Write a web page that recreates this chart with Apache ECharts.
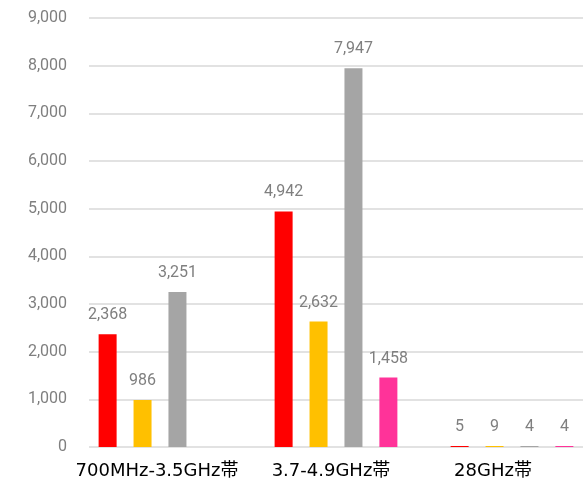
<!DOCTYPE html>
<html>
<head>
<meta charset="utf-8">
<script src="https://cdn.jsdelivr.net/npm/echarts@6/dist/echarts.min.js"></script>
<style>
  html, body { margin: 0; padding: 0; background: #fff; overflow: hidden; }
  /* a little wider than the window: the last category band runs past the right edge */
  #chart { width: 600px; height: 481px; }
</style>
</head>
<body>
<div id="chart"></div>
<script>
// band categories
const categories = ['700MHz-3.5GHz帯', '3.7-4.9GHz帯', '28GHz帯'];
// four series, colors follow the original
const seriesA = [2368, 4942, 5];
const seriesB = [986, 2632, 9];
const seriesC = [3251, 7947, 4];
const seriesD = [null, 1458, 4];
const seriesColors = ['#ff0000', '#ffc000', '#a5a5a5', '#ff3399'];
const yTicks = [0, 9000, 1000];

const chart = echarts.init(document.getElementById('chart'));

const labelStyle = {
  show: true,
  position: 'top',
  distance: 11,
  color: '#7f7f7f',
  fontSize: 16,
  fontFamily: 'Roboto, "Noto Sans CJK JP", sans-serif',
  formatter: (p) => p.value.toLocaleString('en-US')
};

const makeSeries = (data, i) => ({
  type: 'bar',
  xAxisIndex: 1,
  yAxisIndex: 1,
  data: data,
  barWidth: 18,
  barGap: '94%',
  barMinHeight: 1,
  itemStyle: { color: seriesColors[i] },
  label: labelStyle
});

// category labels in the original sit a bit left of the band centre
const labelShift = [6, 10, 38];
const xRich = {};
labelShift.forEach((s, i) => {
  xRich['c' + i] = { padding: [0, s, 0, 0] };
});

chart.setOption({
  animation: false,
  grid: [
    // gridlines + y labels, ends at the window edge
    { left: 89, right: 17, top: 18, bottom: 34 },
    // bars
    { left: 72, right: 0, top: 18, bottom: 34 }
  ],
  xAxis: [
    { gridIndex: 0, type: 'value', show: false },
    {
      gridIndex: 1,
      type: 'category',
      data: categories,
      axisLine: { show: false },
      axisTick: { show: false },
      axisLabel: {
        interval: 0,
        color: '#000',
        fontSize: 18,
        margin: 15,
        fontFamily: '"DejaVu Sans", "Noto Sans CJK JP", sans-serif',
        formatter: (v, i) => '{c' + i + '|' + v + '}',
        rich: xRich
      }
    }
  ],
  yAxis: [
    {
      gridIndex: 0,
      type: 'value',
      min: yTicks[0],
      max: yTicks[1],
      interval: yTicks[2],
      axisLine: { show: false },
      axisTick: { show: false },
      splitLine: { lineStyle: { color: '#d9d9d9', width: 1.5 } },
      axisLabel: {
        color: '#7f7f7f',
        fontSize: 16,
        margin: 22,
        fontFamily: 'Roboto, sans-serif',
        formatter: (v) => v.toLocaleString('en-US')
      }
    },
    {
      gridIndex: 1,
      type: 'value',
      min: yTicks[0],
      max: yTicks[1],
      interval: yTicks[2],
      show: false
    }
  ],
  series: [seriesA, seriesB, seriesC, seriesD].map(makeSeries)
});
</script>
</body>
</html>
